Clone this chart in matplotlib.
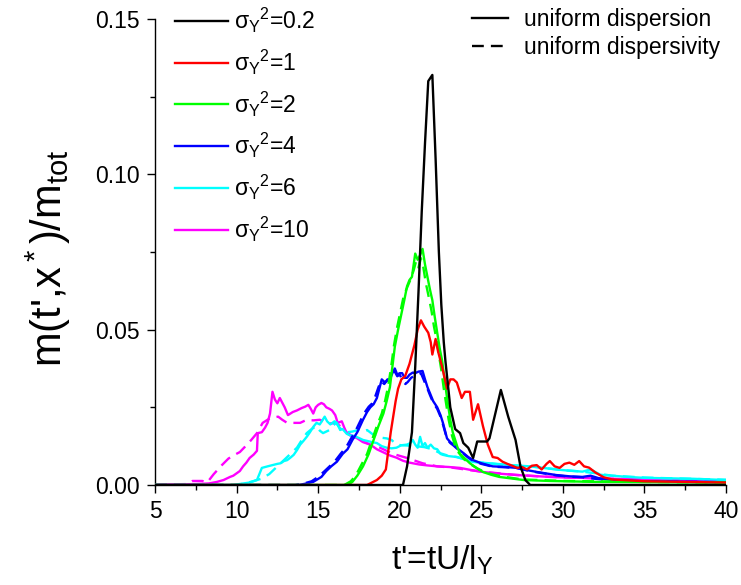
import matplotlib
matplotlib.use("Agg")
import matplotlib.pyplot as plt
from matplotlib.lines import Line2D
import numpy as np

plt.rcParams["font.family"] = ["Liberation Sans", "DejaVu Sans"]
plt.rcParams["mathtext.fontset"] = "custom"
plt.rcParams["mathtext.rm"] = "Liberation Sans"
plt.rcParams["mathtext.it"] = "Liberation Sans"
plt.rcParams["mathtext.sf"] = "Liberation Sans"
plt.rcParams["mathtext.default"] = "regular"

# ---- breakthrough curves m(t', x*)/m_tot for several log-conductivity variances ----
variances = ["0.2", "1", "2", "4", "6", "10"]
colors = ["#000000", "#ff0000", "#00ff00", "#0000ff", "#00ffff", "#ff00ff"]

# sigma_Y^2 = 0.2
t_02 = [5, 20.2, 20.45, 20.75, 20.95, 21.15, 21.35, 21.55, 21.75, 22.0, 22.2, 22.4,
        22.55, 22.7, 22.8, 23.1, 23.4, 23.7, 23.9, 24.2, 24.5, 24.75, 25.35, 25.5,
        26.2, 26.65, 27.1, 27.4, 27.7, 28.0, 40]
m_02 = [0, 0, 0.006, 0.017, 0.038, 0.062, 0.088, 0.110, 0.130, 0.132, 0.105, 0.075,
        0.058, 0.046, 0.040, 0.025, 0.018, 0.0167, 0.0135, 0.012, 0.0087, 0.014, 0.014, 0.015,
        0.0306, 0.022, 0.0145, 0.006, 0.0016, 0, 0]

# sigma_Y^2 = 1
t_1 = [5, 18.0, 18.3, 18.6, 18.9, 19.15, 19.3, 19.45, 19.6, 19.75, 19.9, 20.1, 20.33,
       20.6, 20.9, 21.1, 21.3, 21.5, 21.75, 21.9, 22.0, 22.2, 22.35, 22.6, 22.9, 23.1,
       23.3, 23.5, 23.8, 24.0, 24.3, 24.5, 24.8, 25.1, 25.4, 25.7, 26.0, 26.3, 26.6,
       26.9, 27.2, 27.5, 27.8, 28.1, 28.4, 28.7, 29.0, 29.2, 29.5, 29.8, 30.1, 30.4,
       30.7, 31.0, 31.3, 31.6, 32.0, 32.5, 33.0, 35.0, 40.0]
m_1 = [0, 0, 0.0008, 0.0016, 0.003, 0.005, 0.011, 0.017, 0.022, 0.027, 0.031, 0.034, 0.035,
       0.039, 0.045, 0.050, 0.053, 0.051, 0.049, 0.046, 0.042, 0.047, 0.043, 0.038, 0.031, 0.034,
       0.034, 0.033, 0.028, 0.030, 0.030, 0.021, 0.026, 0.019, 0.013, 0.009, 0.0087, 0.0075, 0.0068,
       0.0062, 0.0055, 0.0058, 0.005, 0.0062, 0.0064, 0.005, 0.0068, 0.0077, 0.006, 0.0055, 0.0068, 0.0072,
       0.0065, 0.0077, 0.006, 0.0056, 0.004, 0.0025, 0.0018, 0.0012, 0.0008]

# sigma_Y^2 = 2
t_2 = [5, 16.8, 17.1, 17.4, 17.75, 18.1, 18.4, 18.7, 19.0, 19.2, 19.4, 19.55, 19.7,
       19.9, 20.1, 20.3, 20.45, 20.6, 20.75, 20.95, 21.1, 21.25, 21.4, 21.55, 21.7,
       21.85, 22.0, 22.15, 22.3, 22.45, 22.6, 22.75, 22.9, 23.1, 23.25, 23.4, 23.55,
       23.7, 24.0, 24.3, 24.7, 25.1, 25.6, 26.1, 27.0, 27.6, 29.2, 32, 36, 40]
m_2 = [0, 0, 0.001, 0.003, 0.006, 0.010, 0.0145, 0.019, 0.023, 0.027, 0.0315, 0.038, 0.0445,
       0.050, 0.055, 0.060, 0.064, 0.066, 0.067, 0.0745, 0.0725, 0.074, 0.076, 0.071, 0.067,
       0.063, 0.0595, 0.054, 0.049, 0.044, 0.040, 0.034, 0.028, 0.021, 0.017, 0.0145, 0.012,
       0.010, 0.0085, 0.007, 0.0055, 0.0042, 0.0033, 0.0026, 0.002, 0.0016, 0.0013, 0.001, 0.0009, 0.0008]
t_2d = [5, 16.6, 17.0, 17.3, 17.6, 18.0, 18.3, 18.6, 18.9, 19.1, 19.3, 19.5, 19.65,
        19.85, 20.05, 20.25, 20.45, 20.65, 20.85, 21.0, 21.15, 21.3, 21.45, 21.6, 21.8,
        21.95, 22.1, 22.25, 22.4, 22.55, 22.7, 22.85, 23.0, 23.2, 23.4, 23.6, 23.9,
        24.3, 24.8, 25.4, 26.2, 27.5, 30, 35, 40]
m_2d = [0, 0, 0.0012, 0.003, 0.006, 0.010, 0.0145, 0.019, 0.023, 0.027, 0.032, 0.039, 0.045,
        0.051, 0.056, 0.061, 0.0635, 0.066, 0.069, 0.072, 0.070, 0.073, 0.070, 0.065, 0.060,
        0.056, 0.051, 0.047, 0.042, 0.037, 0.031, 0.026, 0.021, 0.016, 0.0125, 0.0105, 0.0085,
        0.0068, 0.0052, 0.0038, 0.0028, 0.0018, 0.0013, 0.001, 0.0008]

# sigma_Y^2 = 4
t_4 = [5, 13.8, 14.3, 14.7, 15.2, 15.5, 15.8, 16.15, 16.5, 16.8, 17.1, 17.4, 17.75,
       18.0, 18.2, 18.4, 18.6, 18.75, 18.9, 19.1, 19.25, 19.4, 19.55, 19.7, 19.85, 20.0,
       20.15, 20.3, 20.45, 20.6, 20.8, 20.95, 21.15, 21.4, 21.55, 21.7, 21.85, 22.05,
       22.3, 22.5, 22.65, 22.9, 23.1, 23.3, 23.6, 23.9, 24.2, 24.5, 25.0, 25.7, 26.5,
       27.2, 27.8, 28.4, 29.0, 29.6, 30.4, 31.2, 31.7, 32.2, 33, 35, 40]
m_4 = [0, 0, 0.0005, 0.001, 0.0026, 0.0045, 0.006, 0.0075, 0.010, 0.0115, 0.0145, 0.017, 0.021,
       0.0235, 0.025, 0.026, 0.028, 0.031, 0.034, 0.033, 0.034, 0.034, 0.036, 0.0375, 0.0355, 0.036,
       0.036, 0.0345, 0.0345, 0.0355, 0.0362, 0.036, 0.0365, 0.0367, 0.034, 0.0315, 0.0296, 0.027,
       0.025, 0.0225, 0.020, 0.015, 0.0138, 0.013, 0.0115, 0.0103, 0.009, 0.008, 0.007, 0.006, 0.0058,
       0.0055, 0.0048, 0.0042, 0.0037, 0.0032, 0.0028, 0.0026, 0.003, 0.0022, 0.0016, 0.0012, 0.0009]
t_4d = [5, 13.6, 14.2, 14.6, 15.0, 15.4, 15.7, 16.05, 16.4, 16.7, 17.0, 17.3, 17.65,
        17.9, 18.1, 18.3, 18.5, 18.7, 18.85, 19.05, 19.2, 19.35, 19.55, 19.7, 19.85, 20.0,
        20.2, 20.35, 20.5, 20.7, 21.0, 21.3, 21.5, 21.7, 21.85, 22.05, 22.3, 22.5, 22.65,
        22.9, 23.1, 23.3, 23.6, 23.9, 24.2, 24.5, 25.0, 25.7, 26.5, 27.2, 27.8, 28.4,
        29.0, 29.6, 30.4, 31.2, 32, 33, 35, 40]
m_4d = [0, 0, 0.0006, 0.0012, 0.0026, 0.0045, 0.006, 0.0078, 0.0102, 0.012, 0.0148, 0.0175, 0.0213,
        0.0237, 0.0252, 0.0262, 0.0285, 0.0315, 0.0335, 0.0325, 0.0335, 0.0335, 0.0355, 0.0365, 0.035, 0.0355,
        0.0335, 0.0325, 0.0332, 0.0345, 0.0355, 0.036, 0.0335, 0.031, 0.029, 0.0265, 0.0245, 0.022, 0.0195,
        0.0148, 0.0135, 0.0127, 0.0113, 0.0101, 0.0088, 0.0078, 0.0068, 0.0059, 0.0057, 0.0054, 0.0047, 0.0041,
        0.0036, 0.0031, 0.0027, 0.0025, 0.002, 0.0015, 0.0011, 0.0009]

# sigma_Y^2 = 6
t_6 = [5, 9.8, 10.3, 10.8, 11.25, 11.55, 11.9, 12.2, 12.5, 12.7, 12.9, 13.1, 13.3,
       13.5, 13.7, 13.9, 14.1, 14.3, 14.5, 14.7, 14.9, 15.1, 15.4, 15.55, 15.75, 16.0,
       16.15, 16.35, 16.5, 16.75, 16.95, 17.2, 17.55, 17.75, 18.0, 18.3, 18.6, 18.9,
       19.2, 19.5, 19.8, 20.1, 20.45, 20.65, 20.8, 20.95, 21.1, 21.25, 21.4, 21.55,
       21.7, 21.9, 22.1, 22.3, 22.5, 22.65, 23.0, 23.5, 24.0, 24.5, 25.0, 25.5, 26.2,
       26.8, 27.4, 28.0, 28.8, 29.6, 30.4, 31.2, 31.7, 32.3, 33.0, 34.0, 35.0, 36.0,
       37.0, 38.0, 39.0, 40.0]
m_6 = [0, 0, 0.0004, 0.0008, 0.0016, 0.0055, 0.006, 0.0064, 0.0068, 0.007, 0.0077, 0.008, 0.0088,
       0.0097, 0.0112, 0.013, 0.0142, 0.0155, 0.017, 0.0187, 0.020, 0.0195, 0.022, 0.0205, 0.0195, 0.0205,
       0.020, 0.0177, 0.018, 0.0165, 0.016, 0.0158, 0.015, 0.0145, 0.0142, 0.0138, 0.0135, 0.0125,
       0.012, 0.0118, 0.012, 0.0128, 0.013, 0.0135, 0.0145, 0.013, 0.012, 0.0155, 0.0125, 0.0135,
       0.012, 0.013, 0.0118, 0.0115, 0.010, 0.0097, 0.0093, 0.009, 0.0082, 0.0074, 0.0072, 0.007, 0.0067,
       0.0064, 0.0062, 0.006, 0.0055, 0.005, 0.0046, 0.0043, 0.005, 0.0033, 0.003, 0.0026, 0.0023, 0.0022,
       0.0021, 0.002, 0.0018, 0.0016]
t_6d = [5, 10.0, 10.5, 11.0, 11.5, 12.0, 12.5, 13.1, 13.4, 13.7, 14.0, 14.3, 14.6,
        14.9, 15.1, 15.3, 15.5, 15.7, 15.9, 16.1, 16.3, 16.5, 16.8, 17.1, 17.45, 17.75,
        18.0, 18.3, 18.6, 18.9, 19.2, 19.5, 19.8, 20.1, 20.5, 21.0, 21.5, 22.0, 22.5,
        23.0, 23.5, 24.0, 24.5, 25.0, 26.0, 27.0, 28.0, 29.0, 30.0, 31.0, 32.0, 33.0,
        35.0, 37.0, 40.0]
m_6d = [0, 0, 0.0005, 0.0012, 0.002, 0.0035, 0.006, 0.009, 0.0105, 0.012, 0.0145, 0.0167, 0.018,
        0.019, 0.0175, 0.0167, 0.0172, 0.0177, 0.019, 0.020, 0.0185, 0.0175, 0.017, 0.0172, 0.0177, 0.0172,
        0.0177, 0.0165, 0.0155, 0.0152, 0.015, 0.0145, 0.013, 0.0128, 0.0127, 0.0125, 0.0122, 0.0115, 0.0102,
        0.0094, 0.009, 0.0083, 0.0076, 0.0072, 0.0067, 0.0063, 0.006, 0.0054, 0.0048, 0.0044, 0.0038, 0.003,
        0.0024, 0.0021, 0.0017]

# sigma_Y^2 = 10
t_10 = [5, 5.5, 6.5, 7.5, 8.3, 8.8, 9.2, 9.6, 9.8, 10.2, 10.4, 10.6, 10.8, 11.05,
        11.25, 11.3, 11.55, 11.75, 11.9, 12.05, 12.2, 12.35, 12.5, 12.65, 12.8, 12.95,
        13.15, 13.45, 13.7, 14.0, 14.2, 14.4, 14.55, 14.7, 14.85, 15.0, 15.2, 15.35,
        15.5, 15.7, 15.85, 16.05, 16.2, 16.45, 16.6, 16.75, 16.95, 17.2, 17.4, 17.75,
        18.2, 18.6, 19.0, 19.4, 19.8, 20.2, 20.6, 21.2, 21.7, 22.3, 23.0, 23.7, 24.4,
        25.1, 26.0, 27.2, 28.2, 29.2, 30.2, 31.2, 33, 35, 37, 40]
m_10 = [0, 0.0002, 0.0002, 0.0003, 0.0005, 0.001, 0.0016, 0.0026, 0.003, 0.0045, 0.006, 0.0072,
        0.0087, 0.0098, 0.011, 0.0167, 0.017, 0.0185, 0.020, 0.023, 0.030, 0.0275, 0.0263, 0.028,
        0.0265, 0.025, 0.0225, 0.0235, 0.024, 0.0248, 0.0252, 0.0258, 0.0245, 0.023, 0.025, 0.0258,
        0.0264, 0.026, 0.025, 0.0245, 0.024, 0.0225, 0.020, 0.0205, 0.0185, 0.0167, 0.016, 0.0155,
        0.015, 0.0138, 0.013, 0.0115, 0.0105, 0.0095, 0.0088, 0.0078, 0.0072, 0.0066, 0.0063, 0.006,
        0.0058, 0.0055, 0.0048, 0.0042, 0.0037, 0.0032, 0.0029, 0.0026, 0.0024, 0.0023, 0.002, 0.0018,
        0.0016, 0.0015]
t_10d = [5, 6.0, 7.0, 7.3, 7.9, 8.2, 8.6, 9.1, 9.5, 9.8, 10.2, 10.55, 10.9, 11.25,
         11.6, 12.05, 12.55, 12.8, 13.1, 13.5, 13.9, 14.3, 14.7, 15.1, 15.5, 15.8, 16.1,
         16.45, 16.8, 17.2, 17.55, 18.2, 18.8, 19.6, 20.45, 21.4, 22.3, 23.2, 24.0, 25.0,
         26.0, 27.0, 28.5, 30, 33, 36, 40]
m_10d = [0, 0.0002, 0.0003, 0.0013, 0.0013, 0.0008, 0.0035, 0.0064, 0.0085, 0.0095, 0.0106, 0.0125,
         0.0145, 0.0167, 0.020, 0.0215, 0.022, 0.021, 0.020, 0.020, 0.020, 0.021, 0.0208, 0.021, 0.020,
         0.0198, 0.020, 0.0185, 0.0167, 0.0155, 0.0145, 0.013, 0.012, 0.010, 0.0087, 0.007, 0.006, 0.0056,
         0.005, 0.0043, 0.0038, 0.0033, 0.0028, 0.0025, 0.002, 0.0018, 0.0015]

solid = [(t_02, m_02), (t_1, m_1), (t_2, m_2), (t_4, m_4), (t_6, m_6), (t_10, m_10)]
dashed = {2: (t_2d, m_2d), 3: (t_4d, m_4d), 4: (t_6d, m_6d), 5: (t_10d, m_10d)}

x_ticks = [5, 10, 15, 20, 25, 30, 35, 40]
y_ticks = [0.00, 0.05, 0.10, 0.15]

W, H = 741, 585
fig = plt.figure(figsize=(W / 100, H / 100), dpi=100)
ax = fig.add_axes([155 / W, 1 - 485 / H, 571 / W, 466 / H])

lw = 1.7
handles = [None] * 6
for i in reversed(range(6)):
    z = 2 + (5 - i)
    if i in dashed:
        td, md = dashed[i]
        ax.plot(td, md, color=colors[i], lw=lw, ls=(0, (5, 3)), zorder=z)
    t, m = solid[i]
    handles[i], = ax.plot(t, m, color=colors[i], lw=lw, zorder=z + 0.5)

ax.set_xlim(5, 40)
ax.set_ylim(0, 0.15)
ax.set_xticks(x_ticks)
ax.set_xticklabels([str(v) for v in x_ticks])
ax.set_yticks(y_ticks)
ax.set_yticklabels([f"{v:.2f}" for v in y_ticks])
ax.set_xticks(np.arange(7.5, 40, 5), minor=True)
ax.set_yticks([0.025, 0.075, 0.125], minor=True)
for s in ["top", "right"]:
    ax.spines[s].set_visible(False)
for s in ["left", "bottom"]:
    ax.spines[s].set_linewidth(1.0)
ax.tick_params(which="major", direction="out", length=5.8, width=1.0, labelsize=16.5, pad=5)
ax.tick_params(which="minor", direction="out", length=3.6, width=1.0)

fig.text(442 / W, 1 - 560 / H, r"t'=tU/l$_Y$", fontsize=24, ha="center", va="center")
fig.text(48 / W, 1 - 258 / H, r"m(t',x$^*$)/m$_{tot}$", fontsize=30,
         rotation=90, ha="center", va="center")

labels = [r"$\sigma_{Y}{}^{2}$=" + v for v in variances]
leg1 = ax.legend(handles, labels, loc="upper left", bbox_to_anchor=(175 / W, 1 - 6 / H),
                 bbox_transform=fig.transFigure, frameon=False, fontsize=16.5,
                 handlelength=2.3, handletextpad=0.27, labelspacing=0.55,
                 borderpad=0, borderaxespad=0)
ax.add_artist(leg1)

style_handles = [Line2D([], [], color="black", lw=1.7),
                 Line2D([], [], color="black", lw=1.7, ls=(0, (5, 3)))]
ax.legend(style_handles, ["uniform dispersion", "uniform dispersivity"], loc="upper left",
          bbox_to_anchor=(472 / W, 1 - 8 / H), bbox_transform=fig.transFigure,
          frameon=False, fontsize=16.5, handlelength=1.55, handletextpad=0.7,
          labelspacing=0.2, borderpad=0, borderaxespad=0)

fig.savefig("out.png", dpi=100)
